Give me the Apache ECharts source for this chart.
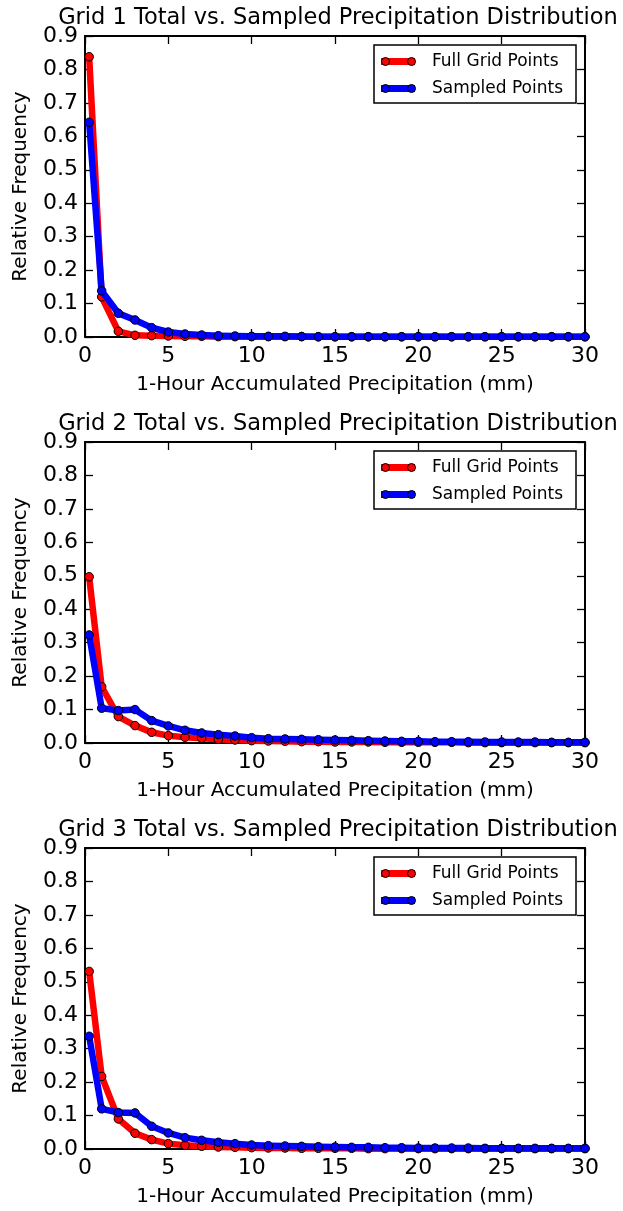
<!DOCTYPE html>
<html>
<head>
<meta charset="utf-8">
<script src="https://cdn.jsdelivr.net/npm/echarts@6/dist/echarts.min.js"></script>
<style>
html,body{margin:0;padding:0;background:#fff;}
#chart{width:623px;height:1211px;}
</style>
</head>
<body>
<div id="chart"></div>
<script>
// ---- data ----
const precipBins = [0.25,1,2,3,4,5,6,7,8,9,10,11,12,13,14,15,16,17,18,19,20,21,22,23,24,25,26,27,28,29,30];
const seriesNames = ['Full Grid Points', 'Sampled Points'];
const gridTitles = [
  'Grid 1 Total vs. Sampled Precipitation Distribution',
  'Grid 2 Total vs. Sampled Precipitation Distribution',
  'Grid 3 Total vs. Sampled Precipitation Distribution'
];
const grid1Full = [0.838,0.120,0.017,0.005,0.004,0.003,0.002,0.002,0.001,0.001,0.001,0.001,0.001,0.001,0.0005,0.0005,0.0005,0.0005,0.0005,0.0005,0.0005,0.0005,0.0005,0.0005,0.0005,0.0005,0.0005,0.0005,0.0005,0.0005,0.0005];
const grid1Sampled = [0.642,0.138,0.071,0.051,0.028,0.015,0.009,0.006,0.004,0.003,0.002,0.002,0.002,0.0015,0.001,0.001,0.001,0.001,0.001,0.001,0.001,0.001,0.001,0.001,0.001,0.001,0.001,0.001,0.001,0.001,0.001];
const grid2Full = [0.497,0.168,0.079,0.052,0.032,0.022,0.017,0.014,0.011,0.009,0.007,0.006,0.005,0.004,0.004,0.003,0.003,0.003,0.002,0.002,0.002,0.002,0.002,0.001,0.001,0.001,0.001,0.001,0.001,0.001,0.001];
const grid2Sampled = [0.323,0.104,0.097,0.100,0.067,0.051,0.038,0.030,0.025,0.021,0.016,0.013,0.012,0.011,0.010,0.009,0.008,0.007,0.006,0.005,0.005,0.004,0.004,0.004,0.003,0.003,0.003,0.003,0.002,0.002,0.002];
const grid3Full = [0.531,0.217,0.090,0.047,0.028,0.016,0.011,0.008,0.006,0.005,0.004,0.003,0.003,0.002,0.002,0.002,0.002,0.001,0.001,0.001,0.001,0.001,0.001,0.001,0.001,0.001,0.001,0.001,0.001,0.001,0.001];
const grid3Sampled = [0.337,0.120,0.109,0.108,0.068,0.048,0.034,0.026,0.020,0.016,0.012,0.010,0.009,0.008,0.007,0.006,0.005,0.005,0.004,0.004,0.003,0.003,0.003,0.003,0.002,0.002,0.002,0.002,0.002,0.002,0.002];
const xTicks = [0,5,10,15,20,25,30];
const yTicks = [0,0.1,0.2,0.3,0.4,0.5,0.6,0.7,0.8,0.9];
const xAxisTitle = '1-Hour Accumulated Precipitation (mm)';
const yAxisTitle = 'Relative Frequency';

const gridData = [[grid1Full, grid1Sampled],[grid2Full, grid2Sampled],[grid3Full, grid3Sampled]];
const colors = ['#ff0000', '#0000ff'];

// ---- layout ----
const FONT = 'DejaVu Sans';
const PLOT_LEFT = 85, PLOT_W = 500, PLOT_H = 301, PLOT_TOP0 = 36, STEP = 406;

const grids = [], xAxes = [], yAxes = [], series = [], titles = [], legends = [];
const frameLine = {show:true, onZero:false, lineStyle:{color:'#000', width:2}};
const tick = {show:true, inside:true, length:8, lineStyle:{color:'#000', width:1.3}};
const legendCommon = {
  data: seriesNames, orient:'vertical', left: 374,
  padding:[8,13,6,7], itemGap:10, itemWidth:34, selectedMode:false
};
const legendText = {fontFamily:FONT, fontSize:17, padding:[0,0,0,12]};

gridData.forEach((pair, i) => {
  const top = PLOT_TOP0 + STEP * i;
  grids.push({left: PLOT_LEFT, top: top, width: PLOT_W, height: PLOT_H, containLabel:false});
  const xMin = xTicks[0], xMax = xTicks[xTicks.length-1], xInt = xTicks[1]-xTicks[0];
  const yMin = yTicks[0], yMax = yTicks[yTicks.length-1], yInt = 0.1;
  xAxes.push({
    type:'value', gridIndex:i, position:'bottom', min:xMin, max:xMax, interval:xInt,
    axisLine: frameLine, axisTick: tick, splitLine:{show:false},
    axisLabel:{color:'#000', fontFamily:FONT, fontSize:22, margin:8},
    name: xAxisTitle, nameLocation:'middle', nameGap:38,
    nameTextStyle:{color:'#000', fontFamily:FONT, fontSize:20}
  });
  xAxes.push({
    type:'value', gridIndex:i, position:'top', min:xMin, max:xMax, interval:xInt,
    axisLine: frameLine, axisTick: tick, splitLine:{show:false}, axisLabel:{show:false}
  });
  yAxes.push({
    type:'value', gridIndex:i, position:'left', min:yMin, max:yMax, interval:yInt,
    axisLine: frameLine, axisTick: tick, splitLine:{show:false},
    axisLabel:{color:'#000', fontFamily:FONT, fontSize:22, margin:7, formatter: v => v.toFixed(1)},
    name: yAxisTitle, nameLocation:'middle', nameGap:54, nameRotate:90,
    nameTextStyle:{color:'#000', fontFamily:FONT, fontSize:20}
  });
  yAxes.push({
    type:'value', gridIndex:i, position:'right', min:yMin, max:yMax, interval:yInt,
    axisLine: frameLine, axisTick: tick, splitLine:{show:false}, axisLabel:{show:false}
  });
  pair.forEach((vals, s) => {
    series.push({
      type:'line', name: seriesNames[s], xAxisIndex: 2*i, yAxisIndex: 2*i,
      data: precipBins.map((x, k) => [x, vals[k]]),
      symbol:'circle', symbolSize:8.5, showSymbol:true,
      lineStyle:{color: colors[s], width:6.5, join:'miter'},
      itemStyle:{color: colors[s], borderColor:'#000', borderWidth:1},
      emphasis:{disabled:true}, animation:false, clip:true, z: 2 + s
    });
  });
  titles.push({
    text: gridTitles[i], left: 333, textAlign:'center', top: top - 34,
    textStyle:{color:'#000', fontFamily:FONT, fontSize:22.5, fontWeight:'normal'}
  });
  // legend: thick line samples + labels in a framed box
  legends.push(Object.assign({}, legendCommon, {
    top: top + 9, z: 5,
    backgroundColor:'#fff', borderColor:'#000', borderWidth:1.5,
    icon:'rect', itemHeight:7,
    itemStyle:{borderWidth:0},
    textStyle: Object.assign({color:'#000'}, legendText)
  }));
  // legend overlay: the two end markers of each sample line
  legends.push(Object.assign({}, legendCommon, {
    top: top + 9, z: 6,
    backgroundColor:'transparent', borderWidth:0,
    icon:'path://M0,4A4,4,0,1,1,8,4A4,4,0,1,1,0,4ZM26,4A4,4,0,1,1,34,4A4,4,0,1,1,26,4Z',
    itemHeight:8,
    itemStyle:{borderColor:'#000', borderWidth:1},
    textStyle: Object.assign({color:'rgba(0,0,0,0)'}, legendText)
  }));
});

const chart = echarts.init(document.getElementById('chart'), null, {renderer:'canvas'});
chart.setOption({
  backgroundColor:'#fff',
  animation:false,
  title: titles,
  legend: legends,
  grid: grids,
  xAxis: xAxes,
  yAxis: yAxes,
  series: series
});
</script>
</body>
</html>
